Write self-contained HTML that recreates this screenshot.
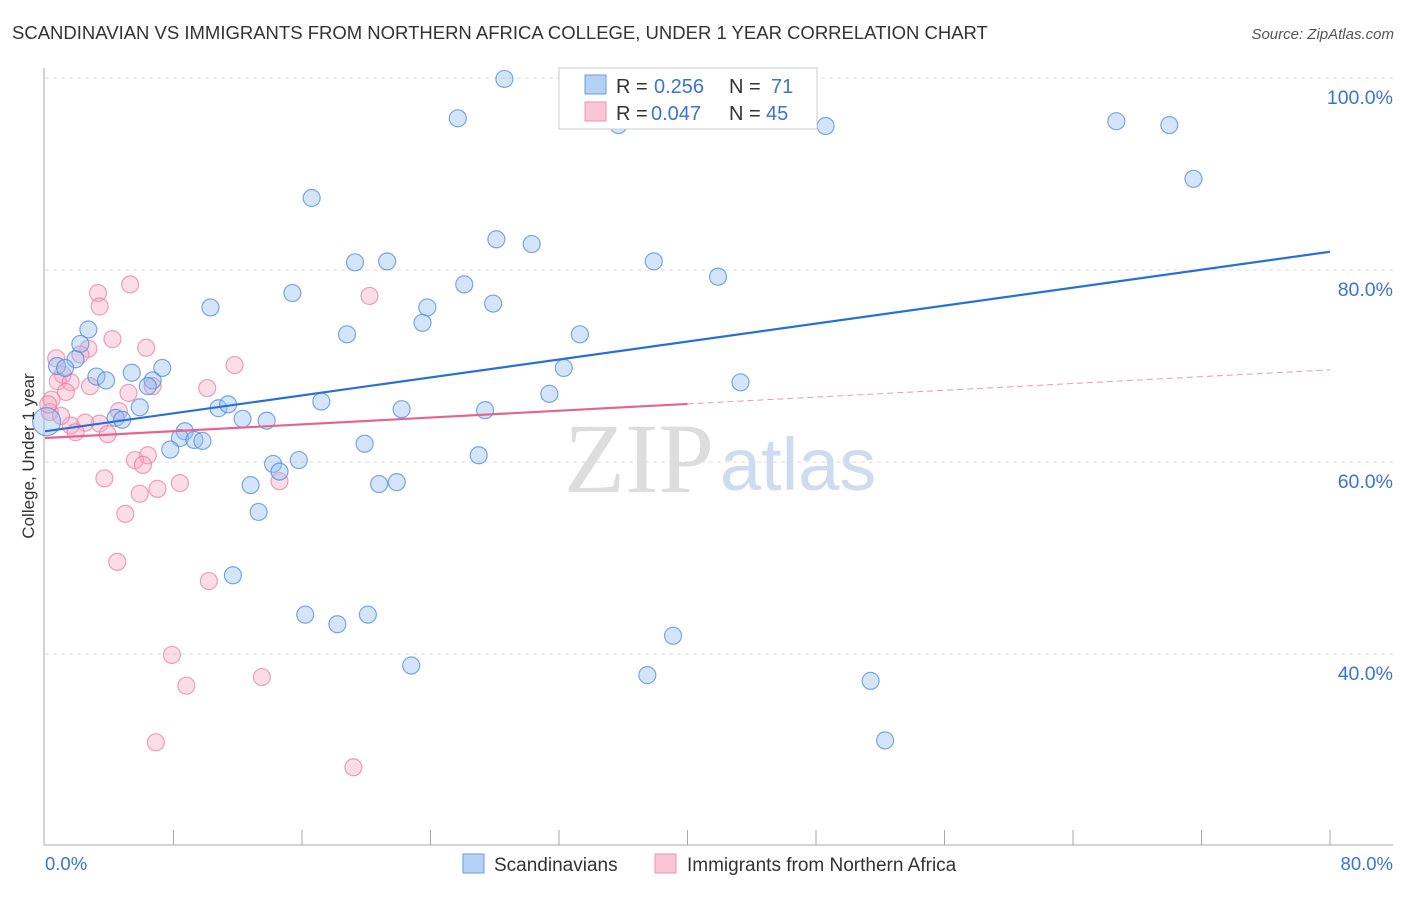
<!DOCTYPE html>
<html><head><meta charset="utf-8"><style>
body{margin:0;background:#fff;font-family:"Liberation Sans",sans-serif;}
</style></head><body>
<svg width="1406" height="892" xmlns="http://www.w3.org/2000/svg">
<text x="12" y="39" font-size="18.5" fill="#333">SCANDINAVIAN VS IMMIGRANTS FROM NORTHERN AFRICA COLLEGE, UNDER 1 YEAR CORRELATION CHART</text>
<text x="1394" y="39" font-size="15" fill="#555" font-style="italic" text-anchor="end">Source: ZipAtlas.com</text>
<g id="grid"></g>
<text x="714" y="492" font-size="100" fill="#ddd" text-anchor="end" font-family="Liberation Serif, serif">ZIP</text>
<text x="720" y="490" font-size="74" fill="#cfdcf0">atlas</text>
<g id="pts"></g>
<g id="lines"></g>
<text transform="translate(34,456) rotate(-90)" font-size="17" fill="#333" text-anchor="middle">College, Under 1 year</text>
<text x="45" y="870" font-size="18.5" fill="#3b74d0">0.0%</text>
<text x="1393" y="870" font-size="18.5" fill="#3b74d0" text-anchor="end">80.0%</text>
<g>
<rect x="559" y="68" width="258" height="61" fill="#fff" stroke="#ccc"/>
<rect x="585" y="75" width="21" height="19" fill="#b5d0f5" stroke="#6a9ee0"/>
<rect x="585" y="102" width="21" height="19" fill="#f9c6d5" stroke="#eb94b0"/>
<text x="616" y="93" font-size="20" fill="#333">R = <tspan fill="#3b74d0" x="654">0.256</tspan><tspan x="729">N = </tspan><tspan fill="#3b74d0" x="771">71</tspan></text>
<text x="616" y="120" font-size="20" fill="#333">R = <tspan fill="#3b74d0" x="651">0.047</tspan><tspan x="729">N = </tspan><tspan fill="#3b74d0" x="766">45</tspan></text>
</g>
<g>
<rect x="463" y="854" width="21" height="19" fill="#b5d0f5" stroke="#6a9ee0"/>
<text x="494" y="871" font-size="19" fill="#333">Scandinavians</text>
<rect x="655" y="854" width="21" height="19" fill="#f9c6d5" stroke="#eb94b0"/>
<text x="687" y="871" font-size="19" fill="#333">Immigrants from Northern Africa</text>
</g>
</svg>
<script>
const blueX=[28.6,47.1,25.7,35.7,48.6,66.7,70.0,71.5,16.6,28.1,30.3,19.3,21.3,37.9,41.9,26.1,15.4,10.3,23.8,27.9,23.5,18.8,33.3,2.7,2.2,1.9,0.75,1.25,3.2,3.8,5.4,7.3,6.7,6.4,32.3,43.3,31.4,17.2,5.9,4.4,4.8,10.8,11.4,22.2,27.4,12.3,13.8,0.1,8.7,8.4,9.3,9.8,19.9,7.8,27.0,15.8,14.2,14.6,12.8,20.8,21.9,13.3,11.7,16.2,18.2,20.1,39.1,22.8,37.5,51.4,52.3];
const blueY=[99.9,99.8,95.8,95.1,95.0,95.5,95.1,89.5,87.5,83.2,82.7,80.8,80.9,80.9,79.3,78.5,77.6,76.1,76.1,76.5,74.5,73.3,73.3,73.8,72.3,70.7,70.0,69.8,68.9,68.5,69.3,69.8,68.5,67.9,69.8,68.3,67.1,66.3,65.7,64.6,64.4,65.6,66.0,65.5,65.4,64.5,64.3,64.2,63.2,62.5,62.3,62.2,61.9,61.3,60.7,60.2,59.8,59.0,57.6,57.7,57.9,54.8,48.2,44.1,43.1,44.1,41.9,38.8,37.8,37.2,31.0];
const pinkX=[5.3,3.3,3.4,20.2,4.2,6.3,2.7,2.2,0.7,11.8,1.1,0.8,1.6,2.8,1.3,6.7,10.1,5.2,0.4,0.3,4.6,3.4,2.5,1.6,1.9,3.9,6.4,5.6,6.1,3.7,8.4,7.0,5.9,14.6,5.0,4.5,10.2,7.9,8.8,13.5,6.9,19.2,39.5,0.2,1.0];
const pinkY=[78.5,77.6,76.2,77.3,72.8,71.9,71.8,71.2,70.8,70.1,69.1,68.4,68.3,67.9,67.3,67.9,67.7,67.2,66.5,65.2,65.3,64.0,64.1,63.8,63.1,62.9,60.7,60.2,59.7,58.3,57.8,57.2,56.7,58.0,54.6,49.6,47.6,39.9,36.7,37.6,30.8,28.2,99.8,66.0,64.8];
const yTicks=[100,80,60,40];
const yTickLabels=["100.0%","80.0%","60.0%","40.0%"];
const blueTrend=[63.2,81.9];
const pinkTrend=[62.5,69.6];
const NS="http://www.w3.org/2000/svg";
const sx=v=>45+v*1285/80;
const sy=v=>78+(100-v)*9.6;
function mk(t,a,p){const e=document.createElementNS(NS,t);for(const k in a)e.setAttribute(k,a[k]);p.appendChild(e);return e;}
const grid=document.getElementById('grid');
yTicks.forEach((t,i)=>{
 const l=mk('line',{x1:45,x2:1393,y1:sy(t),y2:sy(t),stroke:'#ddd','stroke-dasharray':'4,4'},grid);
 
 
 const tx=mk('text',{x:1393,y:sy(t)+26,'font-size':19.5,fill:'#3b74d0','text-anchor':'end'},grid);
 tx.textContent=yTickLabels[i];
 
 
});
const ax=mk('line',{x1:44,x2:44,y1:68,y2:845,stroke:'#aaa'},grid);


const bx=mk('line',{x1:44,x2:1393,y1:845,y2:845,stroke:'#aaa'},grid);


for(let v=8;v<=80;v+=8){
 const tk=mk('line',{x1:sx(v),x2:sx(v),y1:830,y2:845,stroke:'#aaa'},grid);
 
 
}
const pts=document.getElementById('pts');
pinkX.forEach((x,i)=>{
 const c=mk('circle',{cx:sx(x),cy:sy(pinkY[i]),r:8.5,fill:'rgba(245,170,195,0.4)',stroke:'rgba(232,130,165,0.75)','stroke-width':1.2},pts);
 
 
});
blueX.forEach((x,i)=>{
 const c=mk('circle',{cx:sx(x),cy:sy(blueY[i]),r:(i===47?14:8.5),fill:'rgba(150,190,240,0.4)',stroke:'rgba(80,140,220,0.75)','stroke-width':1.2},pts);
 
 
});
const lines=document.getElementById('lines');
const bl=mk('line',{x1:sx(0),y1:sy(blueTrend[0]),x2:sx(80),y2:sy(blueTrend[1]),stroke:'#2a6fd6','stroke-width':2.2},lines);


const pm=pinkTrend[0]+(pinkTrend[1]-pinkTrend[0])*0.5;
const pl=mk('line',{x1:sx(0),y1:sy(pinkTrend[0]),x2:sx(40),y2:sy(pm),stroke:'#e4668f','stroke-width':2.2},lines);


const pd=mk('line',{x1:sx(40),y1:sy(pm),x2:sx(80),y2:sy(pinkTrend[1]),stroke:'#e89ab3','stroke-width':1,'stroke-dasharray':'6,4'},lines);


</script>
</body></html>
